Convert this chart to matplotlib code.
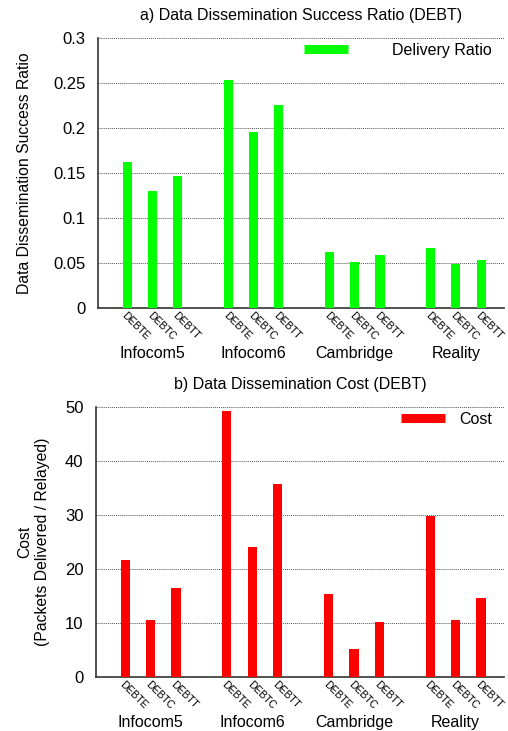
import matplotlib.pyplot as plt
from matplotlib.lines import Line2D
import numpy as np

plt.rcParams['font.family'] = ['Liberation Sans', 'DejaVu Sans']

datasets = ['Infocom5', 'Infocom6', 'Cambridge', 'Reality']
variants = ['DEBTE', 'DEBTC', 'DEBTT']

# values per dataset, in the order of variants
ratio = [
    [0.162, 0.130, 0.147],
    [0.253, 0.196, 0.226],
    [0.062, 0.051, 0.059],
    [0.067, 0.049, 0.053],
]
cost = [
    [21.7, 10.5, 16.4],
    [49.2, 24.0, 35.7],
    [15.3, 5.1, 10.1],
    [29.8, 10.5, 14.6],
]


def draw_panel(ax, values, color, title, ylabel, ymax, yticks, ytick_labels,
               legend_label, legend_pos, text_pad, label_x):
    pos = []
    vals = []
    for g, row in enumerate(values):
        for v, val in enumerate(row):
            pos.append(g * 4 + v)
            vals.append(val)
    ax.bar(pos, vals, width=0.36, color=color, zorder=3)

    ax.set_xlim(-1.15, 14.9)
    ax.set_ylim(0, ymax)
    ax.set_yticks(yticks)
    ax.set_yticklabels(ytick_labels, fontsize=12)
    ax.yaxis.grid(True, linestyle=(0, (1, 1)), color='#555555', linewidth=0.7)
    ax.set_axisbelow(True)

    ax.set_xticks(pos)
    ax.set_xticklabels(variants * len(values), rotation=-45, ha='left',
                       rotation_mode='anchor', fontsize=7.5)
    ax.tick_params(axis='x', length=0, pad=2)
    ax.tick_params(axis='y', length=0, pad=9)

    for g, name in enumerate(datasets):
        ax.text(g * 4 + 1, -0.14, name, transform=ax.get_xaxis_transform(),
                ha='center', va='top', fontsize=11.5)

    for s in ['top', 'right']:
        ax.spines[s].set_visible(False)
    ax.spines['left'].set_linewidth(1.2)
    ax.spines['bottom'].set_linewidth(1.2)
    ax.spines['left'].set_color('#333333')
    ax.spines['bottom'].set_color('#333333')

    ax.set_title(title, fontsize=11.5, pad=13)
    ax.set_ylabel(ylabel, fontsize=11.3)
    ax.yaxis.set_label_coords(label_x, 0.5)

    handle = Line2D([], [], color=color, linewidth=6.5, solid_capstyle='butt')
    ax.legend([handle], [legend_label], loc='center left', bbox_to_anchor=legend_pos,
              frameon=False, fontsize=11.5, handlelength=2.75, handletextpad=text_pad,
              borderaxespad=0, borderpad=0)


fig = plt.figure(figsize=(5.08, 7.31), dpi=100)
ax1 = fig.add_axes([0.193, 0.579, 0.799, 0.369])
ax2 = fig.add_axes([0.189, 0.074, 0.803, 0.369])

draw_panel(ax1, ratio, '#00ff00', 'a) Data Dissemination Success Ratio (DEBT)',
           'Data Dissemination Success Ratio', 0.3,
           [0, 0.05, 0.1, 0.15, 0.2, 0.25, 0.3],
           ['0', '0.05', '0.1', '0.15', '0.2', '0.25', '0.3'],
           'Delivery Ratio', (0.507, 0.954), 2.8, -0.163)
draw_panel(ax2, cost, '#ff0000', 'b) Data Dissemination Cost (DEBT)',
           'Cost\n(Packets Delivered / Relayed)', 50,
           [0, 10, 20, 30, 40, 50],
           ['0', '10', '20', '30', '40', '50'],
           'Cost', (0.748, 0.954), 0.88, -0.113)

fig.savefig('out.png', dpi=100)
